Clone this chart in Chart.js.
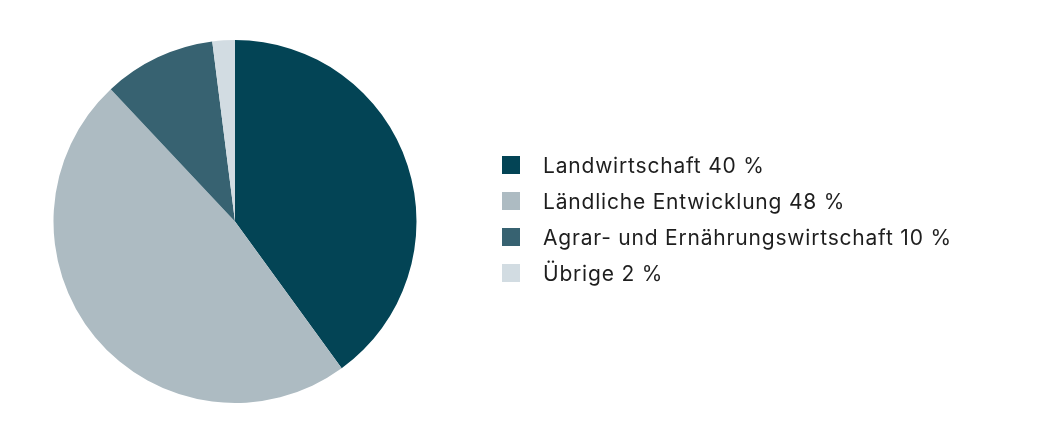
<!DOCTYPE html>
<html>
<head>
<meta charset="utf-8">
<script src="https://cdn.jsdelivr.net/npm/chart.js@4/dist/chart.umd.min.js"></script>
<style>
  html, body { margin: 0; padding: 0; background: #ffffff; }
  #wrap { position: relative; width: 1053px; height: 440px; }
  #legend { position: absolute; left: 502px; top: 147px; font-family: Inter, "Noto Sans", sans-serif; font-size: 21px; letter-spacing: 0.8px; color: #1e1e1e; }
  .row { display: flex; align-items: center; height: 36px; }
  .box { width: 18px; height: 18px; margin-right: 23px; flex: none; }
</style>
</head>
<body>
<div id="wrap">
  <canvas id="c" width="1053" height="440"></canvas>
  <div id="legend"></div>
</div>
<script>
const categories = ["Landwirtschaft", "Ländliche Entwicklung", "Agrar- und Ernährungswirtschaft", "Übrige"];
const shares = [40, 48, 10, 2];
const colors = ["#034455", "#adbbc2", "#376271", "#d2dce2"];

const legend = document.getElementById('legend');
categories.forEach((c, i) => {
  const row = document.createElement('div');
  row.className = 'row';
  const box = document.createElement('div');
  box.className = 'box';
  box.style.background = colors[i];
  const t = document.createElement('span');
  t.textContent = c + ' ' + shares[i] + ' %';
  row.appendChild(box); row.appendChild(t);
  legend.appendChild(row);
});

new Chart(document.getElementById('c'), {
  type: 'pie',
  data: {
    labels: categories,
    datasets: [{ data: shares, backgroundColor: colors, borderWidth: 0 }]
  },
  options: {
    responsive: false,
    animation: false,
    layout: { padding: { left: 53, top: 40, right: 636, bottom: 37 } },
    plugins: { legend: { display: false }, tooltip: { enabled: false } }
  }
});
</script>
</body>
</html>
